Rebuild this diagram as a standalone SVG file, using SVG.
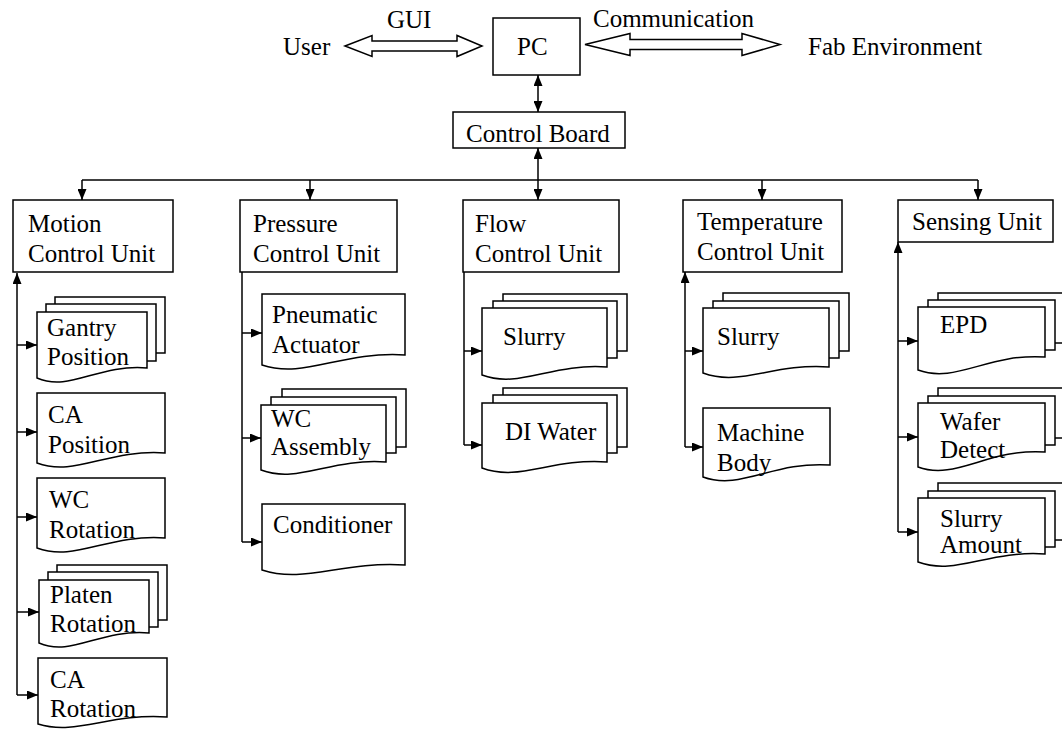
<svg xmlns="http://www.w3.org/2000/svg" width="1062" height="730" viewBox="0 0 1062 730">
<defs>
<marker id="ah" viewBox="0 0 11 9" refX="11" refY="4.5" markerWidth="11" markerHeight="9" markerUnits="userSpaceOnUse" orient="auto-start-reverse"><path d="M0,0 L11,4.5 L0,9 Z" fill="#000"/></marker>
<style>
text{font-family:"Liberation Serif","Times New Roman",serif;font-size:25px;fill:#000}
.b{fill:#fff;stroke:#000;stroke-width:1.5}
.c{fill:none;stroke:#000;stroke-width:1.5}
.a{fill:none;stroke:#000;stroke-width:1.5;marker-end:url(#ah)}
.d{fill:none;stroke:#000;stroke-width:1.5;marker-start:url(#ah);marker-end:url(#ah)}
</style>
</defs>
<rect width="1062" height="730" fill="#fff"/>

<g id="connectors">
<polygon class="b" points="345,46 372,35.5 372,41 457,41 457,35.5 482,46 457,56.5 457,51 372,51 372,56.5"/>
<polygon class="b" points="585,44.5 630,33.5 630,39.5 742,39.5 742,33.5 780,44.5 742,55.5 742,49.5 630,49.5 630,55.5"/>
<path class="d" d="M538,75 V112"/>
<path class="d" d="M538,148 V200"/>
<path class="c" d="M82,180 H978"/>
<path class="a" d="M82,180 V200"/>
<path class="a" d="M310,180 V200"/>
<path class="a" d="M762,180 V200"/>
<path class="a" d="M978,180 V200"/>
<path class="a" d="M17,695 V273"/>
<path class="a" d="M17,345 H37"/>
<path class="a" d="M17,432 H37"/>
<path class="a" d="M17,517 H37"/>
<path class="a" d="M17,612 H39"/>
<path class="a" d="M17,695 H38"/>
<path class="c" d="M242,272 V542"/>
<path class="a" d="M242,333 H262"/>
<path class="a" d="M242,438 H261"/>
<path class="a" d="M242,542 H262"/>
<path class="c" d="M464,272 V445"/>
<path class="a" d="M464,351 H482"/>
<path class="a" d="M464,445 H482"/>
<path class="a" d="M685,447 V272"/>
<path class="a" d="M685,351 H703"/>
<path class="a" d="M685,447 H703"/>
<path class="a" d="M898,532 V242"/>
<path class="a" d="M898,341 H918"/>
<path class="a" d="M898,437 H918"/>
<path class="a" d="M898,532 H918"/>
</g>

<g id="user"><text x="283" y="55">User</text></g>
<g id="gui"><text x="387" y="28">GUI</text></g>
<g id="communication"><text x="593" y="27">Communication</text></g>
<g id="fab"><text x="808" y="55">Fab Environment</text></g>
<g id="pc"><rect class="b" x="493" y="18" width="87" height="57"/><text x="517" y="55">PC</text></g>
<g id="control-board"><rect class="b" x="453" y="112" width="172" height="36"/><text x="466" y="142">Control Board</text></g>

<g id="motion"><rect class="b" x="13" y="200" width="160" height="72"/><text x="28" y="232">Motion</text><text x="28" y="262">Control Unit</text></g>
<g id="pressure"><rect class="b" x="240" y="200" width="157" height="72"/><text x="253" y="232">Pressure</text><text x="253" y="262">Control Unit</text></g>
<g id="flow"><rect class="b" x="463" y="200" width="156" height="72"/><text x="475" y="232">Flow</text><text x="475" y="262">Control Unit</text></g>
<g id="temperature"><rect class="b" x="683" y="200" width="159" height="72"/><text x="697" y="230">Temperature</text><text x="697" y="260">Control Unit</text></g>
<g id="sensing"><rect class="b" x="898" y="200" width="155" height="42"/><text x="912" y="230">Sensing Unit</text></g>

<g id="gantry-position">
<rect class="b" x="55" y="297" width="110" height="56"/><rect class="b" x="46" y="304" width="110" height="57"/>
<path class="b" d="M37,312 H147 V368 C97.5,364 70,392 37,378 Z"/>
<text x="47" y="336">Gantry</text><text x="47" y="365">Position</text></g>
<g id="ca-position"><path class="b" d="M37,393 H165 V453 C107.4,449 75.4,477 37,463 Z"/><text x="48" y="423">CA</text><text x="48" y="453">Position</text></g>
<g id="wc-rotation"><path class="b" d="M37,478 H165 V538 C107.4,534 75.4,562 37,548 Z"/><text x="49" y="508">WC</text><text x="49" y="538">Rotation</text></g>
<g id="platen-rotation">
<rect class="b" x="57" y="565" width="110" height="55"/><rect class="b" x="48" y="572" width="110" height="55"/>
<path class="b" d="M39,580 H149 V633 C99.5,629 72,657 39,643 Z"/>
<text x="50" y="603">Platen</text><text x="50" y="632">Rotation</text></g>
<g id="ca-rotation"><path class="b" d="M38,658 H167 V717 C109,713 76.7,736 38,724 Z"/><text x="50" y="688">CA</text><text x="50" y="717">Rotation</text></g>

<g id="pneumatic-actuator"><path class="b" d="M262,294 H405 V355 C340.7,351 304.9,379 262,365 Z"/><text x="272" y="323">Pneumatic</text><text x="272" y="353">Actuator</text></g>
<g id="wc-assembly">
<rect class="b" x="282" y="389" width="124" height="58"/><rect class="b" x="271" y="397" width="125" height="56"/>
<path class="b" d="M261,405 H386 V462 C329.8,458 298.5,484 261,470 Z"/>
<text x="271" y="427">WC</text><text x="271" y="455">Assembly</text></g>
<g id="conditioner"><path class="b" d="M262,504 H405 V565 C340.7,561 304.9,584 262,570 Z"/><text x="273" y="533">Conditioner</text></g>

<g id="flow-slurry">
<rect class="b" x="503" y="294" width="124" height="57"/><rect class="b" x="493" y="301" width="124" height="57"/>
<path class="b" d="M482,308 H607 V367 C550.8,363 519.5,389 482,375 Z"/>
<text x="503" y="345">Slurry</text></g>
<g id="di-water">
<rect class="b" x="503" y="388" width="124" height="59"/><rect class="b" x="493" y="395" width="124" height="58"/>
<path class="b" d="M482,403 H607 V462 C550.8,458 519.5,482 482,468 Z"/>
<text x="505" y="440">DI Water</text></g>

<g id="temp-slurry">
<rect class="b" x="723" y="293" width="126" height="58"/><rect class="b" x="713" y="301" width="126" height="57"/>
<path class="b" d="M703,308 H829 V367 C772.3,363 740.8,387 703,373 Z"/>
<text x="717" y="345">Slurry</text></g>
<g id="machine-body"><path class="b" d="M703,408 H830 V465 C772.9,461 741.1,491 703,477 Z"/><text x="717" y="441">Machine</text><text x="717" y="471">Body</text></g>

<g id="epd">
<rect class="b" x="938" y="293" width="127" height="50"/><rect class="b" x="928" y="300" width="127" height="50"/>
<path class="b" d="M918,307 H1045 V357 C987.9,353 956.1,384 918,370 Z"/>
<text x="940" y="333">EPD</text></g>
<g id="wafer-detect">
<rect class="b" x="938" y="388" width="127" height="50"/><rect class="b" x="928" y="396" width="127" height="49"/>
<path class="b" d="M918,403 H1045 V452 C987.9,448 956.1,481 918,467 Z"/>
<text x="940" y="430">Wafer</text><text x="940" y="458">Detect</text></g>
<g id="slurry-amount">
<rect class="b" x="938" y="483" width="127" height="57"/><rect class="b" x="928" y="491" width="127" height="56"/>
<path class="b" d="M918,498 H1045 V554 C987.9,550 956.1,576 918,562 Z"/>
<text x="940" y="527">Slurry</text><text x="940" y="553">Amount</text></g>
</svg>
